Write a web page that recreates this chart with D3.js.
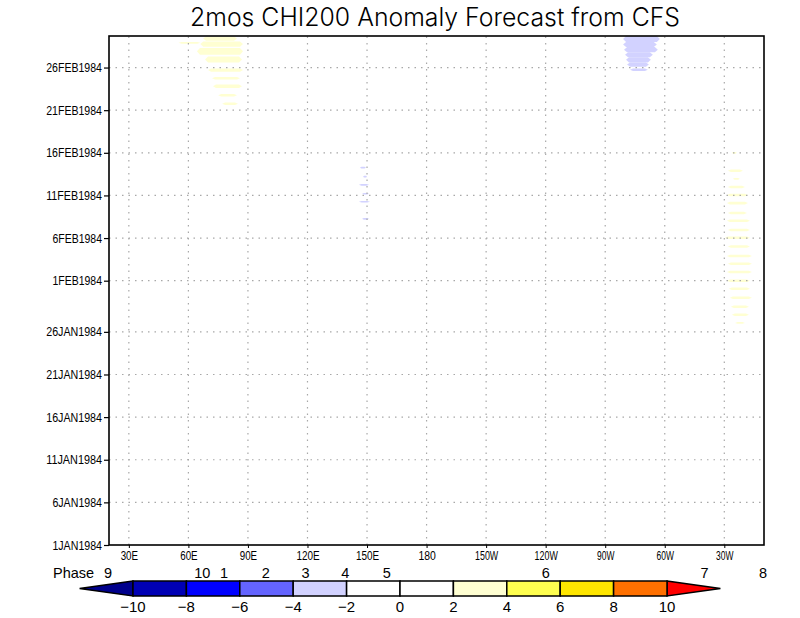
<!DOCTYPE html>
<html><head><meta charset="utf-8">
<script src="https://cdn.jsdelivr.net/npm/d3@7"></script>
<style>body{margin:0;background:#fff}svg{display:block}</style>
</head><body><div id="chart"></div>
<script>
// ---- data ----
const title = "2mos CHI200 Anomaly Forecast from CFS";
const lonTicks = [30,60,90,120,150,180,210,240,270,300,330];
const lonLabels = ["30E","60E","90E","120E","150E","180","150W","120W","90W","60W","30W"];
const dayTicks = [0,5,10,15,20,25,31,36,41,46,51,56];
const dayLabels = ["1JAN1984","6JAN1984","11JAN1984","16JAN1984","21JAN1984","26JAN1984",
                   "1FEB1984","6FEB1984","11FEB1984","16FEB1984","21FEB1984","26FEB1984"];
const phaseNames = ["9","10","1","2","3","4","5","6","7","8"];
const phaseLons  = [19.5,67,78,99,119,139,160,240,320,349.5];
const levels = [-10,-8,-6,-4,-2,0,2,4,6,8,10];
const levelColors = ["#00008c","#0000b4","#0000ff","#6464ff","#d2d2ff","#ffffff",
                     "#ffffff","#ffffd2","#ffff50","#ffe600","#ff7000","#ff0000"];
// anomaly patches: [dayStart, dayEnd, lonStart, lonEnd]
const westYellow = [ // value ~ +3
  [59.15,59.65,67.4,84.5],[58.8,59.0,55,66],[58.45,59.05,66,87.5],[57.5,58.3,64.3,87.5],
  [56.6,57.3,68.4,87],[55.5,55.9,69.9,87.5],[54.6,54.9,71.9,86],[53.6,54.0,72.4,87],
  [52.6,52.9,75,84.5],[51.6,51.9,77,85]];
const westYellowValue = 3;
const eastBlue = [ // value ~ -3
  [59.0,59.7,279,297.5],[58.4,59.0,279,296],[57.8,58.4,279.5,296.5],[57.2,57.8,280,294],
  [56.6,57.2,280.5,293],[56.1,56.6,281,292],[55.6,55.9,282.5,291.5]];
const eastBlueValue = -3;
const dateLineBlue = [
  [44.15,44.35,146.4,149.5],[43.1,43.3,148,150],[42.15,42.35,145.9,151],
  [41.1,41.3,147.5,151],[40.16,40.36,145.9,151.5],[38.16,38.36,147.5,151]];
const dateLineBlueValue = -3;
const atlYellow = [
  [45.9,46.1,333.8,336.3],[43.75,44.05,331.8,339.4],[42.85,43.05,334.3,337.8],
  [41.85,42.15,331.8,340.4],[40.9,41.2,331.3,341.9],[39.95,40.25,331.3,341.9],
  [38.8,39.1,331.8,341.4],[37.88,38.18,331.3,342.9],[36.8,37.1,331.8,342.9],
  [35.88,36.18,330.3,342.9],[34.85,35.15,331.8,342.9],[33.75,34.05,331.3,343.9],
  [32.83,33.13,331.8,343.9],[31.88,32.18,331.3,343.9],[30.85,31.15,331.3,342.9],
  [29.9,30.2,332.3,342.9],[28.85,29.15,332.8,343.9],[27.8,28.1,333.3,342.4],
  [26.85,27.15,333.8,342.4],[25.95,26.15,335.4,340.4]];
const atlYellowValue = 3;

// ---- layout ----
const W = 800, H = 618;
const svg = d3.select("#chart").append("svg").attr("width", W).attr("height", H);
const x = d3.scaleLinear().domain([20, 350]).range([109, 764]);
const y = d3.scaleLinear().domain([0, 59.7]).range([545, 36]);
const color = d3.scaleThreshold().domain(levels).range(levelColors);
const font = "'Liberation Sans', Arial, sans-serif";

// title
svg.append("text").attr("x", 435).attr("y", 26).attr("text-anchor", "middle")
  .attr("font-family", "Inter, 'DejaVu Sans', sans-serif").attr("font-weight", 300)
  .attr("font-size", 25).attr("fill", "#000")
  .attr("textLength", 490).attr("lengthAdjust", "spacingAndGlyphs").text(title);

// patches
const plot = svg.append("g");
function drawPatches(data, value) {
  plot.selectAll(null).data(data).enter().append("path")
    .attr("fill", color(value))
    .attr("d", d => {
      const x0 = x(d[2]), x1 = x(d[3]), yt = y(d[1]), yb = y(d[0]), ym = (yt + yb) / 2;
      const t = Math.min(3, (x1 - x0) / 4);
      return `M${x0},${ym}L${x0+t},${yt}L${x1-t},${yt}L${x1},${ym}L${x1-t},${yb}L${x0+t},${yb}Z`;
    });
}
drawPatches(westYellow, westYellowValue);
drawPatches(eastBlue, eastBlueValue);
drawPatches(dateLineBlue, dateLineBlueValue);
drawPatches(atlYellow, atlYellowValue);

// grid
const grid = svg.append("g").attr("stroke", "#a8a8a8").attr("stroke-width", 1.2)
  .attr("stroke-dasharray", "1.5,5");
grid.selectAll(null).data(lonTicks).enter().append("line")
  .attr("x1", d => x(d)).attr("x2", d => x(d)).attr("y1", 545).attr("y2", 36);
grid.selectAll(null).data(dayTicks.slice(1)).enter().append("line")
  .attr("y1", d => y(d)).attr("y2", d => y(d)).attr("x1", 109).attr("x2", 764);

// axes
const xAxis = d3.axisBottom(x).tickValues(lonTicks).tickSize(3).tickPadding(3)
  .tickFormat((d, i) => lonLabels[i]);
const gx = svg.append("g").attr("transform", "translate(0,545)").call(xAxis);
gx.select(".domain").remove();
gx.selectAll("line").attr("stroke", "#000");
gx.selectAll("text").attr("font-family", font).attr("font-size", 12.5).attr("fill", "#000")
  .attr("textLength", function(d, i){ return lonLabels[i].length * 5.8; })
  .attr("lengthAdjust", "spacingAndGlyphs");

const yAxis = d3.axisLeft(y).tickValues(dayTicks).tickSize(5).tickPadding(2)
  .tickFormat((d, i) => dayLabels[i]);
const gy = svg.append("g").attr("transform", "translate(109,0)").call(yAxis);
gy.select(".domain").remove();
gy.selectAll("line").attr("stroke", "#000").attr("stroke-width", 1.2);
gy.selectAll("text").attr("font-family", font).attr("font-size", 12.5).attr("fill", "#000")
  .attr("textLength", function(d, i){ return dayLabels[i].length * 6.2; })
  .attr("lengthAdjust", "spacingAndGlyphs");

// frame
svg.append("rect").attr("x", 109).attr("y", 36).attr("width", 655).attr("height", 509)
  .attr("fill", "none").attr("stroke", "#000").attr("stroke-width", 1.6);

// phase labels
svg.append("text").attr("x", 53).attr("y", 578).attr("font-family", font)
  .attr("font-size", 14.5).attr("fill", "#000").text("Phase");
svg.selectAll(null).data(phaseNames).enter().append("text")
  .attr("x", (d, i) => x(phaseLons[i])).attr("y", 578).attr("text-anchor", "middle")
  .attr("font-family", font).attr("font-size", 14.5).attr("fill", "#000").text(d => d);

// colorbar
const cb = d3.scaleLinear().domain([-10, 10]).range([133, 667]);
const cbTop = 581, cbBot = 596, cbMid = (cbTop + cbBot) / 2;
const cbg = svg.append("g").attr("stroke", "#000").attr("stroke-width", 1.5);
cbg.append("path").attr("fill", color(-11))
  .attr("d", `M${cb(-10)},${cbTop}L${cb(-12)},${cbMid}L${cb(-10)},${cbBot}Z`);
cbg.append("path").attr("fill", color(11))
  .attr("d", `M${cb(10)},${cbTop}L${cb(12)},${cbMid}L${cb(10)},${cbBot}Z`);
cbg.selectAll(null).data(d3.pairs(levels)).enter().append("rect")
  .attr("x", d => cb(d[0])).attr("y", cbTop)
  .attr("width", d => cb(d[1]) - cb(d[0])).attr("height", cbBot - cbTop)
  .attr("fill", d => color((d[0] + d[1]) / 2));
svg.selectAll(null).data(levels).enter().append("text")
  .attr("x", d => cb(d)).attr("y", 612).attr("text-anchor", "middle")
  .attr("font-family", font).attr("font-size", 15).attr("fill", "#000")
  .text(d => d < 0 ? "\u2212" + Math.abs(d) : String(d));
</script></body></html>
